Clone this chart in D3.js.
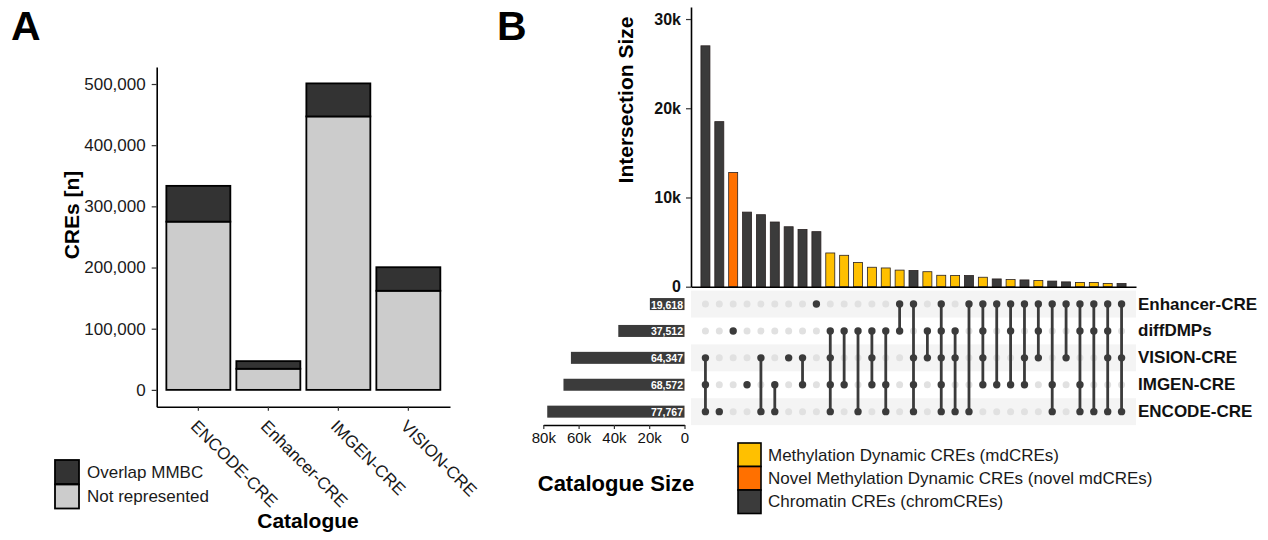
<!DOCTYPE html>
<html>
<head>
<meta charset="utf-8">
<script src="https://cdn.jsdelivr.net/npm/d3@7"></script>
<style>
  body { margin: 0; background: #fff; }
  text { font-family: "Liberation Sans", Arial, Helvetica, sans-serif; }
</style>
</head>
<body>
<div id="vis-container"></div>
<script>
// ---- panel A data ----
const catalogues = ["ENCODE-CRE", "Enhancer-CRE", "IMGEN-CRE", "VISION-CRE"];
const notRepresented = [275000, 34500, 447000, 162000];
const overlapMMBC = [58500, 12500, 54000, 38500];
const legendA = ["Overlap MMBC", "Not represented"];
const colorsA = ["#333333", "#cccccc"];
const ticksA = [0, 100000, 200000, 300000, 400000, 500000];

// ---- panel B data ----
const sets = ["Enhancer-CRE", "diffDMPs", "VISION-CRE", "IMGEN-CRE", "ENCODE-CRE"];
const setSizes = [19618, 37512, 64347, 68572, 77767];
const combos = [
  ["VISION-CRE", "IMGEN-CRE", "ENCODE-CRE"],
  ["ENCODE-CRE"],
  ["diffDMPs"],
  ["IMGEN-CRE"],
  ["VISION-CRE", "ENCODE-CRE"],
  ["IMGEN-CRE", "ENCODE-CRE"],
  ["VISION-CRE"],
  ["VISION-CRE", "IMGEN-CRE"],
  ["Enhancer-CRE"],
  ["diffDMPs", "VISION-CRE", "IMGEN-CRE", "ENCODE-CRE"],
  ["diffDMPs", "IMGEN-CRE"],
  ["diffDMPs", "ENCODE-CRE"],
  ["diffDMPs", "VISION-CRE", "IMGEN-CRE"],
  ["diffDMPs", "IMGEN-CRE", "ENCODE-CRE"],
  ["Enhancer-CRE", "diffDMPs"],
  ["Enhancer-CRE", "VISION-CRE", "IMGEN-CRE", "ENCODE-CRE"],
  ["diffDMPs", "VISION-CRE"],
  ["Enhancer-CRE", "diffDMPs", "VISION-CRE", "IMGEN-CRE", "ENCODE-CRE"],
  ["diffDMPs", "VISION-CRE", "ENCODE-CRE"],
  ["Enhancer-CRE", "ENCODE-CRE"],
  ["Enhancer-CRE", "diffDMPs", "VISION-CRE", "IMGEN-CRE"],
  ["Enhancer-CRE", "IMGEN-CRE"],
  ["Enhancer-CRE", "diffDMPs", "IMGEN-CRE"],
  ["Enhancer-CRE", "VISION-CRE", "IMGEN-CRE"],
  ["Enhancer-CRE", "diffDMPs", "VISION-CRE"],
  ["Enhancer-CRE", "IMGEN-CRE", "ENCODE-CRE"],
  ["Enhancer-CRE", "VISION-CRE"],
  ["Enhancer-CRE", "diffDMPs", "IMGEN-CRE", "ENCODE-CRE"],
  ["Enhancer-CRE", "diffDMPs", "ENCODE-CRE"],
  ["Enhancer-CRE", "diffDMPs", "VISION-CRE", "ENCODE-CRE"],
  ["Enhancer-CRE", "VISION-CRE", "ENCODE-CRE"]
];
const comboSizes = [27000, 18500, 12800, 8360, 8070, 7250, 6720, 6420, 6170,
  3780, 3520, 2720, 2180, 2100, 1860, 1820, 1680, 1280, 1250, 1250, 1060,
  870, 800, 760, 690, 630, 540, 480, 470, 370, 360];
const comboTypes = ["chrom", "chrom", "novel", "chrom", "chrom", "chrom", "chrom", "chrom", "chrom",
  "md", "md", "md", "md", "md", "md", "chrom", "md", "md", "md", "chrom", "md",
  "chrom", "md", "chrom", "md", "chrom", "chrom", "md", "md", "md", "chrom"];
const typeKeys = ["md", "novel", "chrom"];
const typeLabels = ["Methylation Dynamic CREs (mdCREs)",
  "Novel Methylation Dynamic CREs (novel mdCREs)",
  "Chromatin CREs (chromCREs)"];
const typeColors = ["#ffc000", "#ff7000", "#3b3b3b"];
const ticksInter = [0, 10000, 20000, 30000];
const ticksSet = [80000, 60000, 40000, 20000, 0];

const width = 1268, height = 540;
const svg = d3.select('#vis-container').append('svg')
  .attr('width', width).attr('height', height);

const kfmt = d => d === 0 ? "0" : (d / 1000) + "k";

// ================= panel A =================
svg.append("text").attr("x", 11).attr("y", 40)
  .attr("font-size", 41).attr("font-weight", "bold").text("A");

const yA = d3.scaleLinear().domain([-27500, 527800]).range([406.7, 67]);
const xA = d3.scaleBand().domain(catalogues).range([156.7, 450])
  .paddingInner(0.086).paddingOuter(0.138);

const gA = svg.append("g");

catalogues.forEach(function (c, i) {
  const nr = notRepresented[i], ov = overlapMMBC[i];
  gA.append("rect")
    .attr("x", xA(c)).attr("width", xA.bandwidth())
    .attr("y", yA(nr)).attr("height", yA(0) - yA(nr))
    .attr("fill", colorsA[1]).attr("stroke", "#000").attr("stroke-width", 1.8);
  gA.append("rect")
    .attr("x", xA(c)).attr("width", xA.bandwidth())
    .attr("y", yA(nr + ov)).attr("height", yA(nr) - yA(nr + ov))
    .attr("fill", colorsA[0]).attr("stroke", "#000").attr("stroke-width", 1.8);
});

const yAxisA = gA.append("g").attr("transform", "translate(156.7,0)")
  .call(d3.axisLeft(yA).tickValues(ticksA).tickFormat(d3.format(","))
    .tickSize(5).tickSizeOuter(0).tickPadding(6));
const xAxisA = gA.append("g").attr("transform", "translate(0,406.7)")
  .call(d3.axisBottom(xA).tickSize(4).tickSizeOuter(0));

[yAxisA, xAxisA].forEach(function (ax) {
  ax.select(".domain").attr("stroke", "#000").attr("stroke-width", 1.6);
  ax.selectAll(".tick line").attr("stroke", "#333").attr("stroke-width", 1.2);
  ax.selectAll("text").attr("font-size", 17).attr("fill", "#1a1a1a")
    .attr("font-family", "Liberation Sans, Arial, sans-serif");
});
xAxisA.selectAll(".tick text")
  .attr("text-anchor", "start")
  .attr("y", 0).attr("dy", "0.72em")
  .attr("transform", "translate(0,12) rotate(45)");

gA.append("text").attr("transform", "translate(79,215) rotate(-90)")
  .attr("text-anchor", "middle").attr("font-size", 21).attr("font-weight", "bold")
  .text("CREs [n]");
gA.append("text").attr("x", 308).attr("y", 528)
  .attr("text-anchor", "middle").attr("font-size", 21).attr("font-weight", "bold")
  .text("Catalogue");

legendA.forEach(function (l, i) {
  gA.append("rect").attr("x", 55).attr("y", 460 + i * 24.5)
    .attr("width", 24).attr("height", 24)
    .attr("fill", colorsA[i]).attr("stroke", "#000").attr("stroke-width", 1.8);
  gA.append("text").attr("x", 87).attr("y", 472 + i * 24.5)
    .attr("dominant-baseline", "central").attr("font-size", 17).attr("fill", "#1a1a1a")
    .text(l);
});

// ================= panel B =================
svg.append("text").attr("x", 497).attr("y", 40)
  .attr("font-size", 41).attr("font-weight", "bold").text("B");

const gB = svg.append("g");
const idx = combos.map((d, i) => i);
const xB = d3.scaleBand().domain(idx).range([691, 1136])
  .paddingInner(0.351).paddingOuter(0.716);
const yB = d3.scaleLinear().domain([0, 31350]).range([286.7, 7]);
const rowY = d3.scaleBand().domain(sets).range([290.6, 425.1]);
const xS = d3.scaleLinear().domain([0, 80000]).range([684.5, 543.3]);
const colorOf = t => typeColors[typeKeys.indexOf(t)];
const cx = i => xB(i) + xB.bandwidth() / 2;
const cy = s => rowY(s) + rowY.bandwidth() / 2;

// stripes
sets.forEach(function (s, j) {
  if (j % 2 === 0) {
    gB.append("rect").attr("x", xB.range()[0]).attr("width", xB.range()[1] - xB.range()[0])
      .attr("y", rowY(s)).attr("height", rowY.bandwidth()).attr("fill", "#f4f4f4");
  }
});

// intersection bars
idx.forEach(function (i) {
  gB.append("rect")
    .attr("x", xB(i)).attr("width", xB.bandwidth())
    .attr("y", yB(comboSizes[i])).attr("height", yB(0) - yB(comboSizes[i]))
    .attr("fill", colorOf(comboTypes[i]))
    .attr("stroke", "#2a2222").attr("stroke-width", 0.8);
});

const yAxisB = gB.append("g").attr("transform", "translate(691,0)")
  .call(d3.axisLeft(yB).tickValues(ticksInter).tickFormat(kfmt)
    .tickSize(5).tickSizeOuter(0).tickPadding(5));
yAxisB.select(".domain").attr("stroke", "#000").attr("stroke-width", 1.6);
yAxisB.selectAll(".tick line").attr("stroke", "#333").attr("stroke-width", 1.2);
yAxisB.selectAll("text").attr("font-size", 16).attr("font-weight", "bold").attr("fill", "#111")
  .attr("font-family", "Liberation Sans, Arial, sans-serif");

const xAxisB = gB.append("g").attr("transform", "translate(0," + yB(0) + ")")
  .call(d3.axisBottom(xB).tickValues([]).tickSizeOuter(0));
xAxisB.select(".domain").attr("stroke", "#000").attr("stroke-width", 1.6);

gB.append("text").attr("transform", "translate(633,100) rotate(-90)")
  .attr("text-anchor", "middle").attr("font-size", 21).attr("font-weight", "bold")
  .text("Intersection Size");

// matrix
idx.forEach(function (i) {
  sets.forEach(function (s) {
    if (combos[i].indexOf(s) < 0) {
      gB.append("circle").attr("cx", cx(i)).attr("cy", cy(s)).attr("r", 3.5).attr("fill", "#e1e1e1");
    }
  });
  const ys = combos[i].map(cy);
  if (ys.length > 1) {
    gB.append("line").attr("x1", cx(i)).attr("x2", cx(i))
      .attr("y1", d3.min(ys)).attr("y2", d3.max(ys))
      .attr("stroke", "#3b3b3b").attr("stroke-width", 2.8);
  }
  combos[i].forEach(function (s) {
    gB.append("circle").attr("cx", cx(i)).attr("cy", cy(s)).attr("r", 3.7).attr("fill", "#3b3b3b");
  });
});

// row labels
sets.forEach(function (s) {
  gB.append("text").attr("x", 1138).attr("y", cy(s))
    .attr("dominant-baseline", "central").attr("font-size", 17).attr("font-weight", "bold")
    .attr("fill", "#111").text(s);
});

// set size bars
sets.forEach(function (s, j) {
  gB.append("rect").attr("x", xS(setSizes[j])).attr("width", xS(0) - xS(setSizes[j]))
    .attr("y", cy(s) - 6).attr("height", 12).attr("fill", "#3b3b3b");
  gB.append("text").attr("x", xS(0) - 1.5).attr("y", cy(s) + 0.5)
    .attr("text-anchor", "end").attr("dominant-baseline", "central")
    .attr("font-size", 10.5).attr("font-weight", "bold").attr("fill", "#fff")
    .text(d3.format(",")(setSizes[j]));
});

const xAxisS = gB.append("g").attr("transform", "translate(0,425)")
  .call(d3.axisBottom(xS).tickValues(ticksSet).tickFormat(kfmt)
    .tickSize(4).tickSizeOuter(0).tickPadding(3));
xAxisS.select(".domain").attr("stroke", "#000").attr("stroke-width", 1.6);
xAxisS.selectAll(".tick line").attr("stroke", "#333").attr("stroke-width", 1.2);
xAxisS.selectAll("text").attr("font-size", 15).attr("fill", "#111")
  .attr("font-family", "Liberation Sans, Arial, sans-serif");

gB.append("text").attr("x", 616).attr("y", 491)
  .attr("text-anchor", "middle").attr("font-size", 22).attr("font-weight", "bold")
  .text("Catalogue Size");

// legend B
typeKeys.forEach(function (t, i) {
  gB.append("rect").attr("x", 738).attr("y", 443 + i * 23.5)
    .attr("width", 23).attr("height", 23.5)
    .attr("fill", typeColors[i]).attr("stroke", "#000").attr("stroke-width", 1.6);
  gB.append("text").attr("x", 768).attr("y", 455 + i * 23.3)
    .attr("dominant-baseline", "central").attr("font-size", 17).attr("fill", "#1a1a1a")
    .text(typeLabels[i]);
});
</script>
</body>
</html>
